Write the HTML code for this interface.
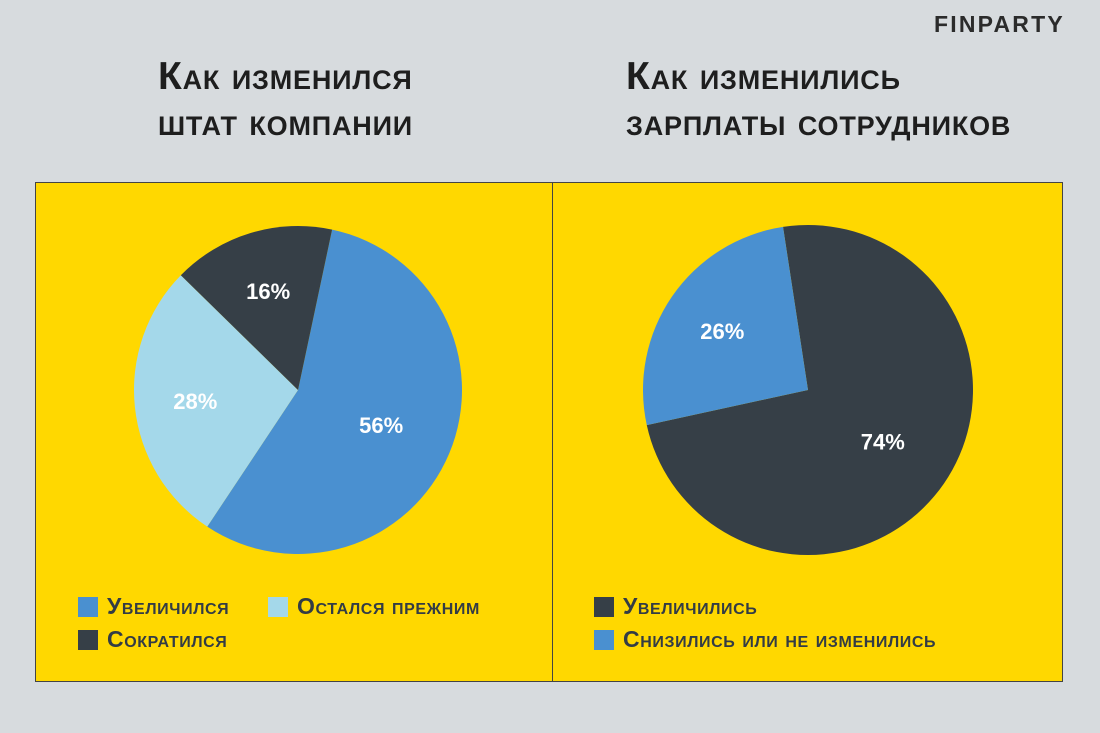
<!DOCTYPE html>
<html><head><meta charset="utf-8">
<style>
body{margin:0;width:1100px;height:733px;background:#d7dbde;font-family:"Liberation Sans","DejaVu Sans",sans-serif;overflow:hidden;position:relative}
.t{position:absolute;font-weight:bold;color:#1e1e1e;font-variant:small-caps;font-size:39px;line-height:46px;letter-spacing:0.8px}
.logo{position:absolute;left:934px;top:11px;font-weight:bold;font-size:23px;color:#2b2b2b;letter-spacing:2.2px}
.panel{position:absolute;top:182px;height:500px;background:#ffd800;border:1px solid #444;box-sizing:border-box}
.leg{position:absolute;font-weight:bold;font-variant:small-caps;font-size:23px;letter-spacing:0.6px;color:#333c45;display:flex;align-items:center}
.leg i{display:inline-block;width:20px;height:20px;margin-right:9px}
svg text{font-family:"Liberation Sans",sans-serif;font-weight:bold;font-size:22px;fill:#fff;text-anchor:middle}
</style></head><body>
<div class="logo">FINPARTY</div>
<div class="t" style="left:158px;top:54px">Как изменился<br>штат компании</div>
<div class="t" style="left:626px;top:54px">Как изменились<br>зарплаты сотрудников</div>
<div class="panel" style="left:35px;width:518px"></div>
<div class="panel" style="left:552px;width:511px"></div>
<svg id="s" width="1100" height="733" style="position:absolute;left:0;top:0"></svg>
<div class="leg" style="left:78px;top:593px"><i style="background:#4a90d0"></i>Увеличился</div>
<div class="leg" style="left:268px;top:593px"><i style="background:#a4d8ea"></i>Остался прежним</div>
<div class="leg" style="left:78px;top:626px"><i style="background:#363f47"></i>Сократился</div>
<div class="leg" style="left:594px;top:593px"><i style="background:#363f47"></i>Увеличились</div>
<div class="leg" style="left:594px;top:626px"><i style="background:#4a90d0"></i>Снизились или не изменились</div>
<script>
const staffLabels=["Увеличился","Остался прежним","Сократился"];
const staffValues=[56,28,16];
const staffColors=["#4a90d0","#a4d8ea","#363f47"];
const salaryLabels=["Увеличились","Снизились или не изменились"];
const salaryValues=[74,26];
const salaryColors=["#363f47","#4a90d0"];
const NS="http://www.w3.org/2000/svg";
const svg=document.getElementById('s');
function pt(cx,cy,r,a){const rad=a*Math.PI/180;return [cx+r*Math.sin(rad),cy-r*Math.cos(rad)];}
function pie(vals,cols,cx,cy,r,start,name){
  const tot=vals.reduce((a,b)=>a+b,0);let a=start;
  vals.forEach((v,i)=>{
    const sw=v/tot*360,a2=a+sw;
    const p1=pt(cx,cy,r,a),p2=pt(cx,cy,r,a2);
    const path=document.createElementNS(NS,'path');
    path.setAttribute('d',`M${cx},${cy}L${p1[0]},${p1[1]}A${r},${r} 0 ${sw>180?1:0} 1 ${p2[0]},${p2[1]}Z`);
    path.setAttribute('fill',cols[i]);
    
    
    svg.appendChild(path);
    const lp=pt(cx,cy,r*(sw>180?0.55:0.63),a+sw/2);
    const t=document.createElementNS(NS,'text');
    t.setAttribute('x',lp[0]);t.setAttribute('y',lp[1]+8);
    t.textContent=v+'%';
    
    
    svg.appendChild(t);
    a=a2;
  });
}
pie(staffValues,staffColors,298,390,164,12,'staff');
pie(salaryValues,salaryColors,808,390,165,-8.7,'salary');
</script>
</body></html>
